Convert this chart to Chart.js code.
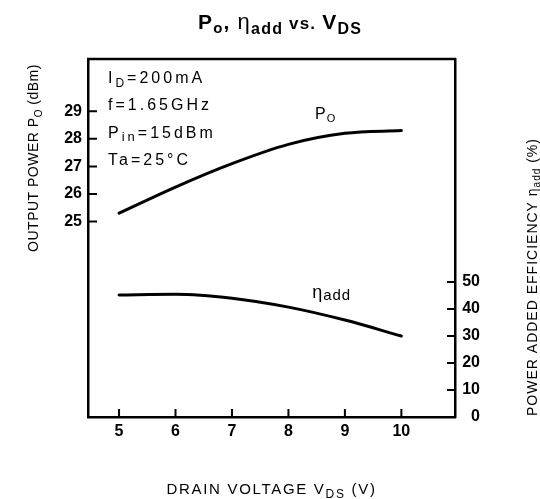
<!DOCTYPE html>
<html>
<head>
<meta charset="utf-8">
<script src="https://cdn.jsdelivr.net/npm/chart.js@4.4.0/dist/chart.umd.min.js"></script>
<style>
  html, body { margin: 0; padding: 0; background: #fff; }
  #wrap { width: 540px; height: 499px; position: relative; }
</style>
</head>
<body>
<div id="wrap"><canvas id="chart"></canvas></div>
<script>
// drain voltage (V) and the two curves
const vds = [5, 6, 7, 8, 9, 10];
const poutDbm = [25.3, 26.25, 27.1, 27.8, 28.2, 28.3];
const effPct = [45.2, 45.5, 44.0, 40.7, 35.9, 30.0];

const xTicks = [5, 6, 7, 8, 9, 10];
const leftTicks = [25, 26, 27, 28, 29];
const rightTicks = [0, 10, 20, 30, 40, 50];

const conditions = [
  [['I', 16], ['D', 12, 4], ['=200mA', 16]],
  [['f=1.65GHz', 16]],
  [['P', 16], ['in', 13, 3], ['=15dBm', 16]],
  [['Ta=25°C', 16]]
];

const FONT = '"Liberation Sans", Arial, sans-serif';

// draws a run of text pieces: [text, size, dy, weight]
function rich(ctx, parts, x, y, align, spacing) {
  ctx.letterSpacing = (spacing || 0) + 'px';
  let w = 0;
  parts.forEach(p => {
    ctx.font = (p[3] || 'normal') + ' ' + p[1] + 'px ' + FONT;
    w += ctx.measureText(p[0]).width;
  });
  let cx = align === 'center' ? x - w / 2 : x;
  parts.forEach(p => {
    ctx.font = (p[3] || 'normal') + ' ' + p[1] + 'px ' + FONT;
    ctx.fillText(p[0], cx, y + (p[2] || 0));
    cx += ctx.measureText(p[0]).width;
  });
  ctx.letterSpacing = '0px';
}

const decor = {
  id: 'decor',
  afterDraw(chart) {
    const ctx = chart.ctx;
    const a = chart.chartArea;
    const sx = chart.scales.x, sy = chart.scales.y, sy1 = chart.scales.y1;
    ctx.save();
    ctx.strokeStyle = '#000';
    ctx.fillStyle = '#000';
    ctx.textAlign = 'left';
    ctx.textBaseline = 'alphabetic';

    // top frame line
    ctx.lineWidth = 2.5;
    ctx.beginPath();
    ctx.moveTo(a.left - 1, a.top);
    ctx.lineTo(a.right + 1, a.top);
    ctx.stroke();

    // inward tick marks
    ctx.lineWidth = 2;
    ctx.beginPath();
    xTicks.forEach(v => {
      const px = sx.getPixelForValue(v);
      ctx.moveTo(px, a.bottom);
      ctx.lineTo(px, a.bottom - 8);
    });
    leftTicks.forEach(v => {
      const py = sy.getPixelForValue(v);
      ctx.moveTo(a.left, py);
      ctx.lineTo(a.left + 9, py);
    });
    rightTicks.forEach(v => {
      const py = sy1.getPixelForValue(v);
      ctx.moveTo(a.right, py);
      ctx.lineTo(a.right - 8, py);
    });
    ctx.stroke();

    // title
    rich(ctx, [
      ['P', 21, 0, 'bold'], ['o', 15, 4, 'bold'], [', ', 21, 0, 'bold'],
      ['η', 22, 0], ['add', 16, 5, 'bold'], [' vs. ', 17, 0, 'bold'],
      ['V', 21, 0, 'bold'], ['DS', 16, 5, 'bold']
    ], 280, 29, 'center', 1.2);

    // x axis title
    rich(ctx, [['DRAIN VOLTAGE V', 15], ['DS', 12, 4], [' (V)', 15]],
      (a.left + a.right) / 2, 494, 'center', 1.7);

    // left axis title
    ctx.save();
    ctx.translate(38, 158);
    ctx.rotate(-Math.PI / 2);
    rich(ctx, [['OUTPUT POWER P', 14], ['O', 10, 4], [' (dBm)', 14]], 0, 0, 'center', 0.5);
    ctx.restore();

    // right axis title
    ctx.save();
    ctx.translate(537, 277);
    ctx.rotate(-Math.PI / 2);
    rich(ctx, [['POWER ADDED EFFICIENCY ', 14], ['η', 14], ['add', 10, 3], [' (%)', 14]], 0, 0, 'center', 1);
    ctx.restore();

    // test conditions
    conditions.forEach((line, i) => {
      rich(ctx, line, a.left + 20, a.top + 24 + i * 27.3, 'left', 3);
    });

    // curve labels
    rich(ctx, [['P', 16], ['O', 11, 3]], sx.getPixelForValue(8.47), sy.getPixelForValue(28.71), 'left', 1);
    rich(ctx, [['η', 18], ['add', 15, 2]], sx.getPixelForValue(8.42), sy1.getPixelForValue(44.1), 'left', 1);

    ctx.restore();
  }
};

const tickFont = { family: FONT, size: 16, weight: 'bold' };

new Chart(document.getElementById('chart'), {
  type: 'line',
  data: {
    datasets: [
      {
        label: 'Po',
        data: vds.map((v, i) => ({ x: v, y: poutDbm[i] })),
        yAxisID: 'y',
        borderColor: '#000',
        borderWidth: 3,
        borderCapStyle: 'round',
        pointRadius: 0,
        cubicInterpolationMode: 'monotone'
      },
      {
        label: 'ηadd',
        data: vds.map((v, i) => ({ x: v, y: effPct[i] })),
        yAxisID: 'y1',
        borderColor: '#000',
        borderWidth: 3,
        borderCapStyle: 'round',
        pointRadius: 0,
        cubicInterpolationMode: 'monotone'
      }
    ]
  },
  options: {
    responsive: true,
    maintainAspectRatio: false,
    animation: false,
    layout: { padding: { left: 0, right: 60, top: 59, bottom: 0 } },
    plugins: {
      legend: { display: false },
      title: { display: false },
      tooltip: { enabled: false }
    },
    scales: {
      x: {
        type: 'linear',
        min: 4.45,
        max: 10.95,
        afterBuildTicks: s => { s.ticks = xTicks.map(v => ({ value: v })); },
        afterFit: s => { s.height = 82; },
        grid: { display: false, drawTicks: false },
        border: { display: true, color: '#000', width: 2.5 },
        ticks: { color: '#000', font: tickFont, padding: 5, maxRotation: 0 }
      },
      y: {
        type: 'linear',
        position: 'left',
        min: 17.9,
        max: 30.9,
        afterBuildTicks: s => { s.ticks = leftTicks.map(v => ({ value: v })); },
        afterFit: s => { s.width = 88; },
        grid: { display: false, drawTicks: false },
        border: { display: true, color: '#000', width: 2.5 },
        ticks: { color: '#000', font: tickFont, padding: 6 }
      },
      y1: {
        type: 'linear',
        position: 'right',
        min: 0,
        max: 132.6,
        afterBuildTicks: s => { s.ticks = rightTicks.map(v => ({ value: v })); },
        afterFit: s => { s.width = 25; },
        grid: { display: false, drawTicks: false },
        border: { display: true, color: '#000', width: 2.5 },
        ticks: { color: '#000', font: tickFont, padding: 4, crossAlign: 'far' }
      }
    }
  },
  plugins: [decor]
});
</script>
</body>
</html>
